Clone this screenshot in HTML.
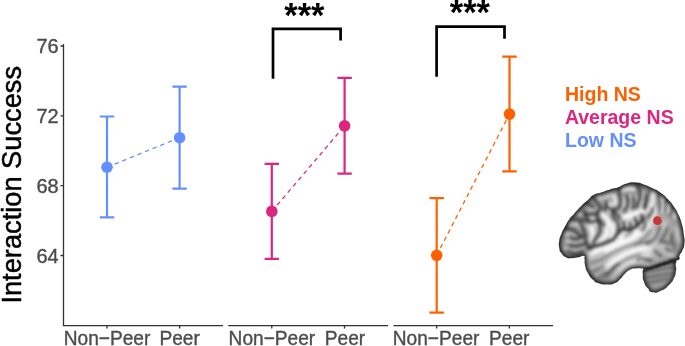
<!DOCTYPE html>
<html><head><meta charset="utf-8">
<style>
html,body{margin:0;padding:0;background:#fff;}
body{width:685px;height:346px;overflow:hidden;position:relative;}
svg{position:absolute;left:0;top:0;}
text{font-family:"Liberation Sans",sans-serif;}
.ax{fill:#4d4d4d;font-size:18.9px;stroke:#4d4d4d;stroke-width:0.4px;}
.lg{font-weight:bold;font-size:19.5px;}
</style></head><body>
<svg width="685" height="346" viewBox="0 0 685 346">
<rect width="685" height="346" fill="#fff"/>
<defs><filter id="soft" x="-2%" y="-2%" width="104%" height="104%"><feGaussianBlur stdDeviation="0.35"/></filter></defs>
<g filter="url(#soft)">
<!-- y label -->
<text transform="translate(21.4,303.6) rotate(-90) scale(0.973,1)" font-size="28" fill="#000" stroke="#000" stroke-width="0.5">Interaction Success</text>
<!-- y tick labels -->
<g class="ax" text-anchor="end" style="font-size:19.9px">
<text x="58.6" y="53.2">76</text>
<text x="58.6" y="123">72</text>
<text x="58.6" y="192.9">68</text>
<text x="58.6" y="262.7">64</text>
</g>
<!-- axes -->
<g stroke="#333" stroke-width="1.3" fill="none">
<path d="M63.5 44 V325.55 H223"/>
<path d="M228.3 325.55 H388"/>
<path d="M393.5 325.55 H553.1"/>
<path d="M60.5 46H63.5M60.5 115.8H63.5M60.5 185.7H63.5M60.5 255.5H63.5"/>
<path d="M107 325.55v3M179.6 325.55v3M271.8 325.55v3M344.5 325.55v3M436.7 325.55v3M509.3 325.55v3"/>
</g>
<!-- x labels -->
<g class="ax" text-anchor="middle" style="font-size:21px">
<text transform="translate(107,344.5) scale(0.911,1)">Non−Peer</text>
<text transform="translate(179.6,344.5) scale(0.911,1)">Peer</text>
<text transform="translate(271.9,344.5) scale(0.911,1)">Non−Peer</text>
<text transform="translate(345,344.5) scale(0.911,1)">Peer</text>
<text transform="translate(436.1,344.5) scale(0.911,1)">Non−Peer</text>
<text transform="translate(509.2,344.5) scale(0.911,1)">Peer</text>
</g>
<!-- blue -->
<g stroke="#648FFF" fill="#648FFF">
<path d="M107 167.2L179.6 137.7" stroke-width="1.3" stroke-dasharray="4.4 3.8" fill="none"/>
<path d="M107 116.5V217.4M99.8 116.5h14.4M99.8 217.4h14.4M179.6 86.7V188.6M172.4 86.7h14.4M172.4 188.6h14.4" stroke-width="2.2" fill="none"/>
<circle cx="107" cy="167.2" r="5.8" stroke="none"/>
<circle cx="179.6" cy="137.7" r="5.8" stroke="none"/>
</g>
<!-- pink -->
<g stroke="#DC267F" fill="#DC267F">
<path d="M271.8 211.4L344.6 125.9" stroke-width="1.3" stroke-dasharray="4.4 3.8" fill="none"/>
<path d="M271.8 163.9V258.8M264.6 163.9h14.4M264.6 258.8h14.4M344.6 77.9V173.6M337.4 77.9h14.4M337.4 173.6h14.4" stroke-width="2.2" fill="none"/>
<circle cx="271.8" cy="211.4" r="5.8" stroke="none"/>
<circle cx="344.6" cy="125.9" r="5.8" stroke="none"/>
</g>
<!-- orange -->
<g stroke="#FE6100" fill="#FE6100">
<path d="M436.7 255.3L509.5 114.1" stroke-width="1.3" stroke-dasharray="4.4 3.8" fill="none"/>
<path d="M436.7 198.1V312.6M429.5 198.1h14.4M429.5 312.6h14.4M509.5 56.7V171.4M502.3 56.7h14.4M502.3 171.4h14.4" stroke-width="2.2" fill="none"/>
<circle cx="436.7" cy="255.3" r="5.8" stroke="none"/>
<circle cx="509.5" cy="114.1" r="5.8" stroke="none"/>
</g>
<!-- brackets -->
<g stroke="#000" stroke-width="2.7" fill="none" stroke-linejoin="miter">
<path d="M273 78.8V28.8H340.6V40.4"/>
<path d="M436.6 76.8V26.6H504.5V38.8"/>
</g>
<g font-weight="bold" font-size="34.4" text-anchor="middle" fill="#000">
<text x="304.4" y="26.8">***</text>
<text x="469.9" y="23.8">***</text>
</g>
<!-- legend -->
<g class="lg">
<text x="565" y="100.8" fill="#FE6100">High NS</text>
<text x="564.9" y="123.9" fill="#DC267F">Average NS</text>
<text x="565" y="147" fill="#648FFF">Low NS</text>
</g>
</g>
<!-- brain -->
<defs>
<filter id="b04" x="-30%" y="-30%" width="160%" height="160%"><feGaussianBlur stdDeviation="0.45"/></filter><filter id="b08" x="-30%" y="-30%" width="160%" height="160%"><feGaussianBlur stdDeviation="0.85"/></filter><filter id="b05" x="-30%" y="-30%" width="160%" height="160%"><feGaussianBlur stdDeviation="0.6"/></filter><filter id="b1" x="-30%" y="-30%" width="160%" height="160%"><feGaussianBlur stdDeviation="1.0"/></filter><filter id="b12" x="-30%" y="-30%" width="160%" height="160%"><feGaussianBlur stdDeviation="1.3"/></filter><filter id="b15" x="-30%" y="-30%" width="160%" height="160%"><feGaussianBlur stdDeviation="1.6"/></filter><filter id="b2" x="-30%" y="-30%" width="160%" height="160%"><feGaussianBlur stdDeviation="2.2"/></filter><filter id="b3" x="-30%" y="-30%" width="160%" height="160%"><feGaussianBlur stdDeviation="3"/></filter>
<path id="bo" d="M559.2 247.5C558.5 243.4 558.5 245.6 559.2 241.0C559.9 236.4 559.5 238.6 561.4 233.8C563.3 229.0 562.4 231.4 565.0 226.6C567.6 221.8 566.4 223.4 569.3 219.3C572.2 215.2 569.8 218.6 573.7 214.3C577.6 210.0 576.1 211.1 580.9 206.3C585.7 201.5 583.8 203.6 588.1 199.8C592.4 196.0 589.3 197.3 593.9 194.8C598.5 192.3 595.9 194.2 602.0 192.2C608.1 190.2 606.9 190.4 612.3 188.8C617.7 187.2 613.5 189.0 618.1 187.3C622.7 185.6 620.3 185.3 626.1 183.7C631.9 182.1 629.6 182.3 635.5 182.5C641.4 182.7 638.1 182.6 643.7 184.4C649.3 186.2 646.5 185.1 652.3 188.0C658.1 190.9 655.7 189.1 661.0 193.0C666.3 196.9 663.9 195.0 668.2 199.6C672.5 204.2 670.6 201.8 674.0 206.8C677.4 211.8 675.7 208.6 678.4 214.5C681.1 220.4 680.2 217.8 682.0 224.5C683.8 231.2 683.0 228.2 683.8 234.6C684.6 241.0 684.9 238.1 684.4 243.6C683.9 249.1 683.8 247.1 682.2 251.0C680.6 254.9 680.7 252.4 679.6 255.3C678.5 258.2 681.0 257.8 679.0 259.6C677.0 261.4 677.6 259.4 673.7 260.7C669.8 262.0 671.6 261.9 667.3 263.5C663.0 265.1 665.1 264.0 660.8 265.4C656.5 266.8 658.7 266.2 654.4 267.6C650.1 269.0 652.8 269.3 648.0 269.5C643.2 269.7 644.3 268.6 640.0 268.3C635.7 268.0 638.2 268.1 635.0 268.5C631.8 268.9 633.9 267.8 630.5 269.6C627.1 271.4 628.1 270.8 624.7 273.9C621.3 277.0 623.7 275.9 620.3 279.0C616.9 282.1 618.9 281.5 614.6 283.3C610.3 285.1 612.6 284.5 607.3 284.5C602.0 284.5 603.5 284.9 598.7 283.3C593.9 281.7 596.6 283.1 593.0 279.7C589.4 276.3 590.6 277.8 588.0 273.2C585.4 268.6 586.4 270.8 585.2 266.0C584.0 261.2 585.0 262.2 584.5 258.8C584.0 255.4 586.1 256.3 583.7 255.9C581.3 255.5 581.8 256.8 577.2 257.6C572.6 258.4 573.6 258.2 570.0 258.2C566.4 258.2 569.4 259.2 566.5 257.6C563.6 256.0 563.8 256.7 561.4 253.3C559.0 249.9 559.9 251.6 559.2 247.5Z"/>
<path id="cb" d="M673.5 259.0C678.8 260.7 675.0 261.7 675.8 266.0C676.6 270.3 676.4 268.0 675.8 272.0C675.2 276.0 676.1 273.8 674.0 278.0C671.9 282.2 673.7 280.3 669.5 284.5C665.3 288.7 667.2 287.9 661.5 290.5C655.8 293.1 657.0 293.0 652.5 292.3C648.0 291.6 650.8 291.9 648.0 288.5C645.2 285.1 645.7 286.5 644.0 282.0C642.3 277.5 642.8 279.5 642.8 275.0C642.8 270.5 641.6 272.2 644.0 268.5C646.4 264.8 644.7 266.5 650.0 264.0C655.3 261.5 652.2 262.7 660.0 261.0C667.8 259.3 668.2 257.3 673.5 259.0Z"/>
<clipPath id="bc"><use href="#bo"/></clipPath><clipPath id="cc"><use href="#cb"/></clipPath>
<radialGradient id="bg" gradientUnits="userSpaceOnUse" cx="622" cy="236" r="64" gradientTransform="translate(622 236) scale(1 0.8) translate(-622 -236)">
<stop offset="0" stop-color="#d8d8d8"/><stop offset="0.5" stop-color="#bcbcbc"/><stop offset="1" stop-color="#909090"/>
</radialGradient>
</defs>
<g filter="url(#b04)">
<g clip-path="url(#cc)"><g filter="url(#b08)"><rect x="630" y="250" width="60" height="50" fill="#9a9a9a"/><g fill="none" stroke="#555" stroke-width="1.8" filter="url(#b08)"><path d="M645.0 272.0C648.7 271.3 646.3 271.7 656.0 270.0C665.7 268.3 668.0 268.0 674.0 267.0"/><path d="M644.5 277.5C648.3 277.0 646.5 277.5 656.0 276.0C665.5 274.5 667.3 274.0 673.0 273.0"/><path d="M646.5 282.5C650.3 282.0 650.2 282.5 658.0 281.0C665.8 279.5 666.0 279.0 670.0 278.0"/></g><use href="#cb" fill="none" stroke="#222" stroke-width="5" filter="url(#b15)"/><path d="M641 268L650 264L660 261L673.5 259" fill="none" stroke="#111" stroke-width="5" filter="url(#b15)"/></g></g>
<g clip-path="url(#bc)"><g filter="url(#b08)">
<rect x="550" y="175" width="140" height="120" fill="url(#bg)"/>
<ellipse cx="576" cy="232" rx="18" ry="26" fill="#000" fill-opacity="0.06" filter="url(#b3)"/>
<ellipse cx="602" cy="273" rx="17" ry="8" transform="rotate(-32 602 273)" fill="#000" fill-opacity="0.13" filter="url(#b3)"/>
<g fill="none" stroke="#c8c8c8" stroke-width="3.4" stroke-linecap="round" stroke-linejoin="round" filter="url(#b12)"><path d="M598.1 198.1C600.5 197.8 600.8 198.1 605.2 197.1C609.6 196.1 609.3 195.8 611.3 195.1"/><path d="M590.0 209.2 L594.1 210.2"/><path d="M578.3 214.1 L582.3 215.1"/><path d="M570.2 224.2C571.9 224.2 571.8 223.5 575.2 224.2C578.6 224.9 576.9 225.2 580.3 226.2C583.7 227.2 583.6 226.9 585.3 227.3"/><path d="M565.1 234.3C566.8 234.3 566.8 233.6 570.2 234.3C573.6 235.0 573.5 235.7 575.2 236.4"/><path d="M587.4 225.2 L590.0 231.3"/><path d="M567.1 241.1C569.1 241.6 569.1 242.4 573.2 242.6C577.3 242.8 575.6 242.4 579.3 241.6C583.0 240.8 582.6 240.6 584.3 240.1"/><path d="M565.1 248.2C567.5 248.7 567.5 249.4 572.2 249.7C576.9 250.0 574.9 249.9 579.3 249.2C583.7 248.5 583.3 248.2 585.3 247.7"/></g>
<g fill="none" stroke="#fafafa" stroke-width="3.8" stroke-linecap="round" stroke-linejoin="round" filter="url(#b12)"><path d="M602.2 213.3C603.2 214.6 603.2 215.0 605.2 217.3C607.2 219.6 606.9 217.7 608.3 220.3C609.7 222.9 609.0 223.4 609.3 225.0"/><path d="M610.3 204.2 L609.3 210.2"/><path d="M591.1 218.3C592.4 219.0 593.4 218.1 595.1 220.3C596.8 222.5 595.8 223.4 596.1 225.0"/><path d="M591.1 226.1C591.6 228.1 592.3 228.1 592.6 232.1C592.9 236.1 592.8 234.8 592.1 238.2C591.4 241.6 591.1 240.9 590.6 242.3"/><path d="M605.2 224.0C605.9 226.0 607.3 226.0 607.3 230.1C607.3 234.2 607.2 232.8 605.2 236.2C603.2 239.6 603.9 238.0 601.2 240.2C598.5 242.4 598.5 241.9 597.1 242.8"/><path d="M612.3 226.1C612.6 228.1 613.6 228.4 613.3 232.1C613.0 235.8 612.0 235.5 611.3 237.2"/></g>
<g fill="none" stroke="#f0f0f0" stroke-width="3.2" stroke-linecap="round" stroke-linejoin="round" filter="url(#b12)"><path d="M622.0 190.5C624.0 189.9 624.1 188.9 628.1 188.6C632.1 188.3 632.0 189.2 634.0 189.5"/><path d="M623.0 197.3 L623.8 206.0"/><path d="M630.3 195.9C630.4 198.8 631.2 199.8 630.7 204.6C630.2 209.4 629.4 208.4 628.8 210.3"/><path d="M636.0 197.3 L636.0 206.0"/><path d="M642.6 193.0C642.5 195.9 642.8 196.4 642.3 201.7C641.8 207.0 641.5 206.5 641.1 208.9"/><path d="M649.8 195.9C649.6 198.8 649.8 199.5 649.1 204.6C648.4 209.7 648.1 208.9 647.6 211.1"/><path d="M614.2 196.0C614.6 197.8 615.2 198.3 615.5 201.3C615.8 204.3 615.3 203.8 615.2 205.0"/><path d="M653.1 193.1C653.3 195.5 653.9 195.8 653.6 200.2C653.3 204.6 652.6 204.2 652.1 206.2"/><path d="M655.6 208.3C655.4 210.0 656.6 209.4 655.1 213.3C653.6 217.2 652.4 217.8 651.1 220.0"/><path d="M662.2 198.1C662.4 200.5 662.9 200.8 662.7 205.2C662.5 209.6 662.0 209.3 661.7 211.3"/><path d="M668.3 205.2 L668.8 211.3"/><path d="M674.3 211.3 L675.3 217.4"/></g>
<g fill="none" stroke="#ffffff" stroke-width="5.0" stroke-linecap="round" stroke-linejoin="round" filter="url(#b15)"><path d="M615.0 223.1C616.7 222.1 616.7 222.1 620.1 220.1C623.5 218.1 621.4 218.8 625.1 217.1C628.8 215.4 627.1 216.6 631.2 215.1C635.3 213.6 633.3 213.9 637.3 212.5C641.3 211.1 641.3 211.5 643.3 211.0"/><path d="M621.0 226.0 L621.3 228.0"/><path d="M627.3 224.0 L627.3 226.5"/><path d="M633.0 222.0 L633.4 225.0"/><path d="M638.8 218.0 L639.2 221.0"/></g>
<g fill="none" stroke="#ffffff" stroke-width="6.2" stroke-linecap="round" stroke-linejoin="round" filter="url(#b15)"><path d="M595.1 250.3C597.8 249.5 597.8 249.8 603.2 247.8C608.6 245.8 607.4 246.8 611.3 244.3C615.2 241.8 611.7 243.0 615.0 240.3C618.3 237.6 617.1 238.6 621.1 236.3C625.1 234.0 623.1 234.8 627.1 233.3C631.1 231.8 629.5 233.1 633.2 231.7C636.9 230.3 634.9 231.7 638.3 229.2C641.7 226.7 640.6 227.6 643.3 224.2C646.0 220.8 645.4 220.8 646.4 219.1"/></g>
<g fill="none" stroke="#ffffff" stroke-width="6.0" stroke-linecap="round" stroke-linejoin="round" filter="url(#b2)"><path d="M591.1 255.0C594.1 254.1 593.8 254.3 600.2 252.4C606.6 250.5 604.2 251.9 610.3 249.3C616.4 246.7 613.1 247.2 618.5 244.5C623.9 241.8 621.1 244.0 626.6 241.2C632.1 238.4 629.2 239.7 635.0 236.0C640.8 232.3 639.5 233.9 644.0 230.0C648.5 226.1 646.9 226.1 648.4 224.2"/><path d="M605.8 267.7C607.7 266.2 606.6 266.6 611.6 263.1C616.6 259.6 614.6 260.8 620.8 257.3C627.0 253.8 623.7 255.4 630.1 252.7C636.5 250.0 633.4 251.1 640.0 249.2C646.6 247.3 646.7 247.7 650.0 247.0"/></g>
<g fill="none" stroke="#e6e6e6" stroke-width="4.5" stroke-linecap="round" stroke-linejoin="round" filter="url(#b2)"><path d="M617.3 271.2C618.9 269.9 618.5 269.9 622.0 267.2C625.5 264.5 623.5 265.2 627.7 263.1C631.9 261.0 628.8 263.5 634.7 260.8C640.6 258.1 640.2 257.4 645.3 255.0C650.4 252.6 648.4 254.0 650.0 253.5"/></g>
<g fill="none" stroke="#bcbcbc" stroke-width="3.6" stroke-linecap="round" stroke-linejoin="round" filter="url(#b15)"><path d="M590.1 258.1C592.1 257.4 591.7 257.8 596.1 256.1C600.5 254.4 600.8 254.0 603.2 253.0"/><path d="M590.1 267.2C592.1 266.5 592.1 266.9 596.1 265.2C600.1 263.5 600.2 263.1 602.2 262.1"/><path d="M596.1 275.3C597.4 274.1 596.8 274.3 600.0 271.8C603.2 269.3 603.9 269.1 605.8 267.7"/><path d="M612.7 278.0 L617.3 271.2"/></g>
<g fill="none" stroke="#c6c6c6" stroke-width="3.6" stroke-linecap="round" stroke-linejoin="round" filter="url(#b15)"><path d="M640.0 241.0C644.3 240.1 647.4 241.4 653.0 238.4C658.6 235.4 655.6 234.1 656.9 231.9"/><path d="M666.0 221.5 L663.4 228.0"/><path d="M676.4 228.0 L679.0 241.0"/><path d="M648.0 245.7C650.1 245.3 650.1 244.2 654.4 244.6C658.7 245.0 656.5 243.9 660.8 246.8C665.1 249.7 663.0 250.0 667.3 253.2C671.6 256.4 671.6 255.3 673.7 256.4"/></g>
<g fill="none" stroke="#505050" stroke-opacity="0.38" stroke-width="5" stroke-linecap="round" stroke-linejoin="round" filter="url(#b15)"><path d="M593.1 196.1C593.8 197.4 593.4 197.4 595.1 200.1C596.8 202.8 596.2 202.0 598.1 204.2C600.0 206.4 600.3 204.7 600.7 206.7C601.1 208.7 600.4 207.7 599.2 210.2C598.0 212.7 597.5 211.6 597.1 214.3C596.7 217.0 596.7 215.6 598.1 218.3C599.5 221.0 599.2 220.2 601.2 222.4C603.2 224.6 603.2 224.1 604.2 225.0"/><path d="M606.2 202.1C606.0 203.8 606.4 204.5 605.7 207.2C605.0 209.9 604.7 209.2 604.2 210.2"/><path d="M585.0 213.8C586.7 214.0 586.6 214.3 590.0 214.3C593.4 214.3 592.6 214.3 595.1 213.8C597.6 213.3 596.8 213.1 597.6 212.8"/><path d="M585.0 202.1C586.0 202.6 585.3 202.1 588.0 203.7C590.7 205.3 591.3 205.9 593.0 207.0"/><path d="M619.5 187.2C619.5 189.6 619.0 190.2 619.5 194.5C620.0 198.8 620.9 196.4 620.9 200.2C620.9 204.0 620.9 203.1 619.5 206.0C618.1 208.9 619.0 207.7 616.6 208.9C614.2 210.1 615.1 210.1 612.2 209.6C609.3 209.1 609.3 208.2 607.9 207.5"/><path d="M613.3 210.2C613.1 211.9 612.3 212.3 612.8 215.3C613.3 218.3 612.9 216.6 614.8 219.3C616.7 222.0 617.2 222.0 618.4 223.4"/><path d="M584.3 211.1C584.6 212.8 583.9 213.4 585.3 216.1C586.7 218.8 587.4 218.2 588.4 219.2"/><path d="M573.2 220.2C574.9 219.9 574.9 219.2 578.3 219.2C581.7 219.2 580.3 219.5 583.3 220.2C586.3 220.9 584.3 220.8 587.4 221.2C590.5 221.6 589.2 221.8 592.7 221.5C596.2 221.2 596.2 220.6 597.9 220.2"/><path d="M566.1 228.3C567.5 228.6 567.5 228.6 570.2 229.3C572.9 230.0 571.8 229.0 574.2 230.3C576.6 231.6 575.3 231.6 577.3 233.3C579.3 235.0 579.3 234.6 580.3 235.3"/><path d="M583.3 229.0C584.0 231.1 584.6 231.6 585.3 235.3C586.0 239.0 584.6 237.3 585.3 240.0C586.0 242.7 585.8 240.8 587.4 243.5C589.0 246.2 589.1 246.5 590.0 248.0"/><path d="M571.2 237.1C572.5 237.8 572.5 238.8 575.2 239.1C577.9 239.4 576.6 239.1 579.3 238.1C582.0 237.1 582.0 236.8 583.3 236.1"/><path d="M570.2 245.2C571.9 245.5 571.8 246.2 575.2 246.2C578.6 246.2 576.9 245.9 580.3 245.2C583.7 244.5 583.6 244.5 585.3 244.2"/><path d="M568.1 251.2C569.8 251.9 569.8 252.8 573.2 253.3C576.6 253.8 574.9 253.5 578.3 252.8C581.7 252.1 581.6 251.7 583.3 251.2"/><path d="M598.1 220.0C598.5 221.7 598.5 221.7 599.2 225.1C599.9 228.5 600.6 226.7 600.2 230.1C599.8 233.5 599.8 232.2 598.1 235.2C596.4 238.2 596.8 236.5 595.1 239.2C593.4 241.9 593.8 241.9 593.1 243.3"/><path d="M580.0 222.0C580.7 223.3 580.9 223.7 582.0 226.0C583.1 228.3 582.9 228.0 583.3 229.0"/><path d="M636.0 183.6C637.0 185.3 637.5 185.1 639.0 188.7C640.5 192.3 640.4 190.7 640.4 194.5C640.4 198.3 640.0 196.8 639.0 200.2C638.0 203.6 638.2 202.2 637.5 204.6C636.8 207.0 637.0 206.5 636.8 207.5"/><path d="M626.7 195.9C627.2 197.8 628.1 197.8 628.1 201.7C628.1 205.6 627.9 204.4 626.7 207.5C625.5 210.6 625.2 209.9 624.5 211.1"/><path d="M633.2 197.3C633.4 199.2 634.1 199.5 633.9 203.1C633.7 206.7 633.0 206.5 632.5 208.2"/><path d="M646.2 195.9C646.0 197.8 646.2 197.8 645.5 201.7C644.8 205.6 644.5 205.6 644.0 207.5"/><path d="M615.0 213.0C616.0 214.0 616.3 214.1 618.0 216.1C619.7 218.1 619.4 218.1 620.1 219.1"/><path d="M618.5 225.2 L618.5 232.3"/><path d="M623.6 222.1 L624.6 228.7"/><path d="M630.2 223.1 L630.2 229.7"/><path d="M635.2 218.1 L636.7 225.2"/><path d="M641.3 215.1 L642.3 220.1"/><path d="M588.0 248.6C589.7 248.0 589.7 247.9 593.1 246.8C596.5 245.7 594.7 246.3 598.1 245.3C601.5 244.3 599.8 245.0 603.2 243.8C606.6 242.6 604.9 243.2 608.3 241.7C611.7 240.2 610.7 241.1 613.3 239.2C615.9 237.3 614.4 238.1 616.0 236.0C617.6 233.9 616.3 234.7 618.0 232.8C619.7 230.9 619.1 231.6 621.1 230.2C623.1 228.8 622.1 228.9 624.1 228.7C626.1 228.5 625.1 229.2 627.1 229.7C629.1 230.2 628.2 230.7 630.2 230.2C632.2 229.7 631.0 229.5 633.2 228.2C635.4 226.9 634.7 227.9 636.7 226.2C638.7 224.5 637.4 225.1 639.3 223.1C641.2 221.1 640.6 221.8 642.3 220.1C644.0 218.4 643.6 218.8 644.3 218.1"/></g>
<g fill="none" stroke="#6a6a6a" stroke-opacity="0.8" stroke-width="2.6" stroke-linecap="round" stroke-linejoin="round" filter="url(#b15)"><path d="M591.0 263.0C594.0 261.9 594.3 262.4 600.0 259.7C605.7 257.0 602.3 258.1 608.1 255.0C613.9 251.9 611.1 253.3 617.3 250.4C623.5 247.5 620.8 248.5 626.6 246.4C632.4 244.3 630.2 245.0 634.7 244.0C639.2 243.0 634.9 244.3 640.0 243.5C645.1 242.7 646.7 242.2 650.0 241.5"/><path d="M594.1 271.2C595.8 270.5 596.2 270.9 599.2 269.2C602.2 267.5 601.9 267.2 603.2 266.2"/><path d="M606.9 274.7C608.5 273.2 608.9 272.8 611.6 270.1C614.3 267.4 613.1 268.3 615.0 266.6C616.9 264.9 614.6 266.8 617.3 264.9C620.0 263.0 618.8 263.5 623.0 261.0C627.2 258.5 624.3 259.7 630.0 257.5C635.7 255.3 636.7 255.5 640.0 254.5"/><path d="M598.2 278.3C599.5 277.3 599.8 277.3 602.2 275.3C604.6 273.3 604.3 273.3 605.3 272.3"/><path d="M640.3 230.2C641.6 228.5 641.9 228.6 644.3 225.2C646.7 221.8 645.7 223.5 647.4 220.1C649.1 216.7 648.7 216.8 649.4 215.1"/><path d="M635.2 245.0C637.2 243.4 637.2 243.9 641.3 240.3C645.4 236.7 644.5 237.7 647.4 234.3C650.3 230.9 649.1 231.6 650.0 230.2"/><path d="M625.1 236.3C626.1 235.6 626.1 235.3 628.1 234.3C630.1 233.3 630.2 233.6 631.2 233.3"/><path d="M672.6 238.2C673.3 240.7 674.3 241.4 674.7 245.7C675.1 250.0 674.0 249.2 673.7 251.0"/></g>
<g fill="none" stroke="#4a4a4a" stroke-opacity="0.75" stroke-width="2.6" stroke-linecap="round" stroke-linejoin="round" filter="url(#b12)"><path d="M605.5 276.0C606.5 275.0 606.5 275.0 608.5 273.0C610.5 271.0 609.4 272.2 611.6 270.1C613.8 268.0 612.7 268.6 615.0 266.6C617.3 264.6 617.3 265.0 618.5 264.2"/><path d="M649.0 191.1C648.8 193.1 649.2 193.1 648.5 197.1C647.8 201.1 648.2 199.5 647.0 203.2C645.8 206.9 645.7 206.6 645.0 208.3"/><path d="M658.1 194.1C658.5 195.8 658.5 195.5 659.2 199.2C659.9 202.9 660.2 201.2 660.2 205.2C660.2 209.2 659.5 209.3 659.2 211.3"/><path d="M665.2 200.2C665.4 201.9 665.7 201.8 665.7 205.2C665.7 208.6 665.4 208.6 665.2 210.3"/><path d="M670.8 206.2C671.0 207.9 671.5 208.3 671.3 211.3C671.1 214.3 670.6 214.0 670.3 215.3"/><path d="M653.1 208.3C652.4 210.0 652.8 210.3 651.1 213.3C649.4 216.3 649.0 216.0 648.0 217.4"/><path d="M659.5 226.7C659.1 228.4 659.5 228.4 658.2 231.9C656.9 235.4 657.8 234.1 655.6 237.1C653.4 240.1 654.7 238.8 651.7 241.0C648.7 243.2 648.2 242.7 646.5 243.6"/><path d="M667.3 228.0C666.4 230.2 666.9 230.6 664.7 234.5C662.5 238.4 662.1 238.0 660.8 239.7"/><path d="M672.5 233.2C672.1 235.8 671.0 237.1 671.2 241.0C671.4 244.9 672.5 243.6 673.2 244.9"/><path d="M643.9 222.0C644.3 223.5 645.6 223.5 645.2 226.4C644.8 229.3 643.5 229.2 642.6 230.6"/><path d="M659.8 242.5C661.2 242.1 661.2 241.0 664.0 241.4C666.8 241.8 666.9 242.9 668.3 243.6"/><path d="M654.4 251.0C655.8 252.1 656.6 252.5 658.7 254.3C660.8 256.1 660.1 255.7 660.8 256.4"/><path d="M666.2 248.9 L669.4 251.0"/><path d="M648.0 259.6 L652.3 260.7"/><path d="M637.3 260.2C638.6 259.5 638.6 258.5 641.3 258.2C644.0 257.9 642.4 258.2 645.3 259.2C648.2 260.2 648.4 260.5 650.0 261.2"/></g>
<g fill="none" stroke="#333" stroke-opacity="0.9" stroke-width="2.2" stroke-linecap="round" stroke-linejoin="round" filter="url(#b1)"><path d="M593.1 196.1C593.8 197.4 593.4 197.4 595.1 200.1C596.8 202.8 596.2 202.0 598.1 204.2C600.0 206.4 600.3 204.7 600.7 206.7C601.1 208.7 600.4 207.7 599.2 210.2C598.0 212.7 597.5 211.6 597.1 214.3C596.7 217.0 596.7 215.6 598.1 218.3C599.5 221.0 599.2 220.2 601.2 222.4C603.2 224.6 603.2 224.1 604.2 225.0"/><path d="M606.2 202.1C606.0 203.8 606.4 204.5 605.7 207.2C605.0 209.9 604.7 209.2 604.2 210.2"/><path d="M585.0 213.8C586.7 214.0 586.6 214.3 590.0 214.3C593.4 214.3 592.6 214.3 595.1 213.8C597.6 213.3 596.8 213.1 597.6 212.8"/><path d="M585.0 202.1C586.0 202.6 585.3 202.1 588.0 203.7C590.7 205.3 591.3 205.9 593.0 207.0"/><path d="M619.5 187.2C619.5 189.6 619.0 190.2 619.5 194.5C620.0 198.8 620.9 196.4 620.9 200.2C620.9 204.0 620.9 203.1 619.5 206.0C618.1 208.9 619.0 207.7 616.6 208.9C614.2 210.1 615.1 210.1 612.2 209.6C609.3 209.1 609.3 208.2 607.9 207.5"/><path d="M613.3 210.2C613.1 211.9 612.3 212.3 612.8 215.3C613.3 218.3 612.9 216.6 614.8 219.3C616.7 222.0 617.2 222.0 618.4 223.4"/><path d="M584.3 211.1C584.6 212.8 583.9 213.4 585.3 216.1C586.7 218.8 587.4 218.2 588.4 219.2"/><path d="M573.2 220.2C574.9 219.9 574.9 219.2 578.3 219.2C581.7 219.2 580.3 219.5 583.3 220.2C586.3 220.9 584.3 220.8 587.4 221.2C590.5 221.6 589.2 221.8 592.7 221.5C596.2 221.2 596.2 220.6 597.9 220.2"/><path d="M566.1 228.3C567.5 228.6 567.5 228.6 570.2 229.3C572.9 230.0 571.8 229.0 574.2 230.3C576.6 231.6 575.3 231.6 577.3 233.3C579.3 235.0 579.3 234.6 580.3 235.3"/><path d="M583.3 229.0C584.0 231.1 584.6 231.6 585.3 235.3C586.0 239.0 584.6 237.3 585.3 240.0C586.0 242.7 585.8 240.8 587.4 243.5C589.0 246.2 589.1 246.5 590.0 248.0"/><path d="M571.2 237.1C572.5 237.8 572.5 238.8 575.2 239.1C577.9 239.4 576.6 239.1 579.3 238.1C582.0 237.1 582.0 236.8 583.3 236.1"/><path d="M570.2 245.2C571.9 245.5 571.8 246.2 575.2 246.2C578.6 246.2 576.9 245.9 580.3 245.2C583.7 244.5 583.6 244.5 585.3 244.2"/><path d="M568.1 251.2C569.8 251.9 569.8 252.8 573.2 253.3C576.6 253.8 574.9 253.5 578.3 252.8C581.7 252.1 581.6 251.7 583.3 251.2"/><path d="M598.1 220.0C598.5 221.7 598.5 221.7 599.2 225.1C599.9 228.5 600.6 226.7 600.2 230.1C599.8 233.5 599.8 232.2 598.1 235.2C596.4 238.2 596.8 236.5 595.1 239.2C593.4 241.9 593.8 241.9 593.1 243.3"/><path d="M580.0 222.0C580.7 223.3 580.9 223.7 582.0 226.0C583.1 228.3 582.9 228.0 583.3 229.0"/><path d="M636.0 183.6C637.0 185.3 637.5 185.1 639.0 188.7C640.5 192.3 640.4 190.7 640.4 194.5C640.4 198.3 640.0 196.8 639.0 200.2C638.0 203.6 638.2 202.2 637.5 204.6C636.8 207.0 637.0 206.5 636.8 207.5"/><path d="M626.7 195.9C627.2 197.8 628.1 197.8 628.1 201.7C628.1 205.6 627.9 204.4 626.7 207.5C625.5 210.6 625.2 209.9 624.5 211.1"/><path d="M633.2 197.3C633.4 199.2 634.1 199.5 633.9 203.1C633.7 206.7 633.0 206.5 632.5 208.2"/><path d="M646.2 195.9C646.0 197.8 646.2 197.8 645.5 201.7C644.8 205.6 644.5 205.6 644.0 207.5"/><path d="M615.0 213.0C616.0 214.0 616.3 214.1 618.0 216.1C619.7 218.1 619.4 218.1 620.1 219.1"/><path d="M618.5 225.2 L618.5 232.3"/><path d="M623.6 222.1 L624.6 228.7"/><path d="M630.2 223.1 L630.2 229.7"/><path d="M635.2 218.1 L636.7 225.2"/><path d="M641.3 215.1 L642.3 220.1"/><path d="M588.0 248.6C589.7 248.0 589.7 247.9 593.1 246.8C596.5 245.7 594.7 246.3 598.1 245.3C601.5 244.3 599.8 245.0 603.2 243.8C606.6 242.6 604.9 243.2 608.3 241.7C611.7 240.2 610.7 241.1 613.3 239.2C615.9 237.3 614.4 238.1 616.0 236.0C617.6 233.9 616.3 234.7 618.0 232.8C619.7 230.9 619.1 231.6 621.1 230.2C623.1 228.8 622.1 228.9 624.1 228.7C626.1 228.5 625.1 229.2 627.1 229.7C629.1 230.2 628.2 230.7 630.2 230.2C632.2 229.7 631.0 229.5 633.2 228.2C635.4 226.9 634.7 227.9 636.7 226.2C638.7 224.5 637.4 225.1 639.3 223.1C641.2 221.1 640.6 221.8 642.3 220.1C644.0 218.4 643.6 218.8 644.3 218.1" stroke-width="3"/></g>
<use href="#bo" fill="none" stroke="#181818" stroke-width="4.6" filter="url(#b15)"/>
</g></g>
<path d="M646 269.2L654.4 267.2L660.8 265L667.3 263L674.5 260.4" fill="none" stroke="#1c1c1c" stroke-width="2.6" stroke-linecap="round" filter="url(#b08)"/>
</g>
<circle cx="657.4" cy="220.7" r="4.4" fill="#c8373a" filter="url(#b05)"/>
</svg>
</body></html>
